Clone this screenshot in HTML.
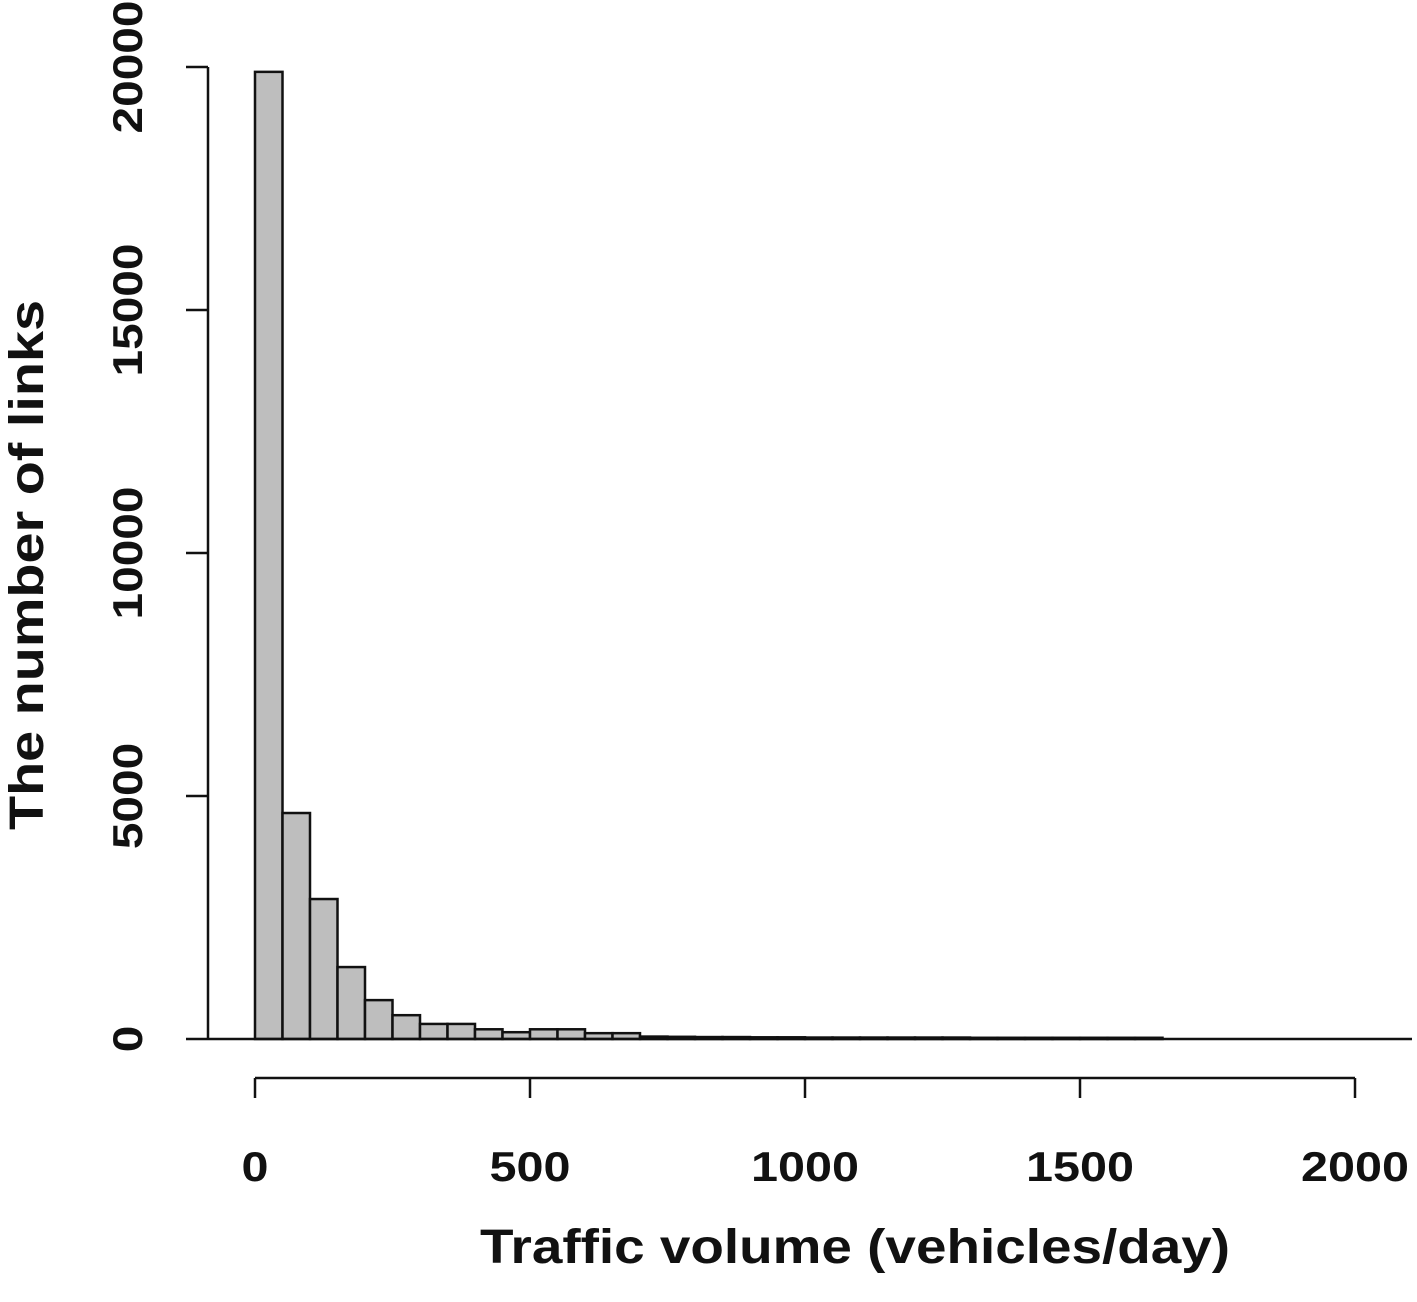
<!DOCTYPE html>
<html><head><meta charset="utf-8"><style>
body{margin:0;background:#fff}
svg{display:block;font-family:"Liberation Sans",Arial,sans-serif;font-weight:bold}
</style></head><body>
<svg width="1417" height="1302" viewBox="0 0 1417 1302">
<g id="bars"></g>
<g id="axes"></g>
</svg>
<script>
const binWidth = 50;
const binStarts = [0,50,100,150,200,250,300,350,400,450,500,550,600,650,700,750,800,850,900,950,1000,1050,1100,1150,1200,1250,1300,1350,1400,1450,1500,1550,1600];
const counts = [19900,4650,2880,1480,800,490,310,310,200,140,200,200,120,120,50,45,40,40,35,35,30,30,30,30,30,30,25,25,25,25,25,25,25];
const xTicks = [0,500,1000,1500,2000];
const yTicks = [0,5000,10000,15000,20000];
const xTickLabels = ["0","500","1000","1500","2000"];
const yTickLabels = ["0","5000","10000","15000","20000"];

const NS="http://www.w3.org/2000/svg";
const X = v => 255 + v*0.55;
const Y = v => 1039 - v*0.0486;
function mk(tag, attrs, parent){const e=document.createElementNS(NS,tag);for(const k in attrs)e.setAttribute(k,attrs[k]);parent.appendChild(e);return e;}
const bars=document.getElementById('bars'), axes=document.getElementById('axes');
counts.forEach((c,i)=>{
  const x0=X(binStarts[i]), x1=X(binStarts[i]+binWidth);
  const r=mk('rect',{x:x0,y:Y(c),width:x1-x0,height:Y(0)-Y(c),fill:'#bebebe',stroke:'#111','stroke-width':2.5},bars);
  
  
});
const bl=mk('line',{x1:208,x2:1412,y1:Y(0),y2:Y(0),stroke:'#111','stroke-width':2.5},axes);


const ya=mk('line',{x1:208,x2:208,y1:Y(20000),y2:Y(0),stroke:'#111','stroke-width':2.5},axes);


yTicks.forEach((t,i)=>{
  mk('line',{x1:186,x2:208,y1:Y(t),y2:Y(t),stroke:'#111','stroke-width':2.5},axes);
  const lab=yTickLabels[i];
  const tx=mk('text',{x:0,y:0,transform:`translate(142,${Y(t)}) rotate(-90)`,'text-anchor':'middle','font-size':42,fill:'#111',textLength:lab.length*26.6,lengthAdjust:'spacingAndGlyphs'},axes);
  tx.textContent=lab;
  
  
});
const xa=mk('line',{x1:X(0),x2:X(2000),y1:1078,y2:1078,stroke:'#111','stroke-width':2.5},axes);


xTicks.forEach((t,i)=>{
  mk('line',{x1:X(t),x2:X(t),y1:1078,y2:1098,stroke:'#111','stroke-width':2.5},axes);
  const lab=xTickLabels[i];
  const tx=mk('text',{x:X(t),y:1181,'text-anchor':'middle','font-size':42,fill:'#111',textLength:lab.length*27,lengthAdjust:'spacingAndGlyphs'},axes);
  tx.textContent=lab;
  
  
});
const xt=mk('text',{x:855,y:1263,'text-anchor':'middle','font-size':48,fill:'#111',textLength:750,lengthAdjust:'spacingAndGlyphs'},axes);
xt.textContent='Traffic volume (vehicles/day)';


const yt=mk('text',{x:0,y:0,transform:'translate(43,565) rotate(-90)','text-anchor':'middle','font-size':48,fill:'#111',textLength:530,lengthAdjust:'spacingAndGlyphs'},axes);
yt.textContent='The number of links';


</script>
</body></html>
